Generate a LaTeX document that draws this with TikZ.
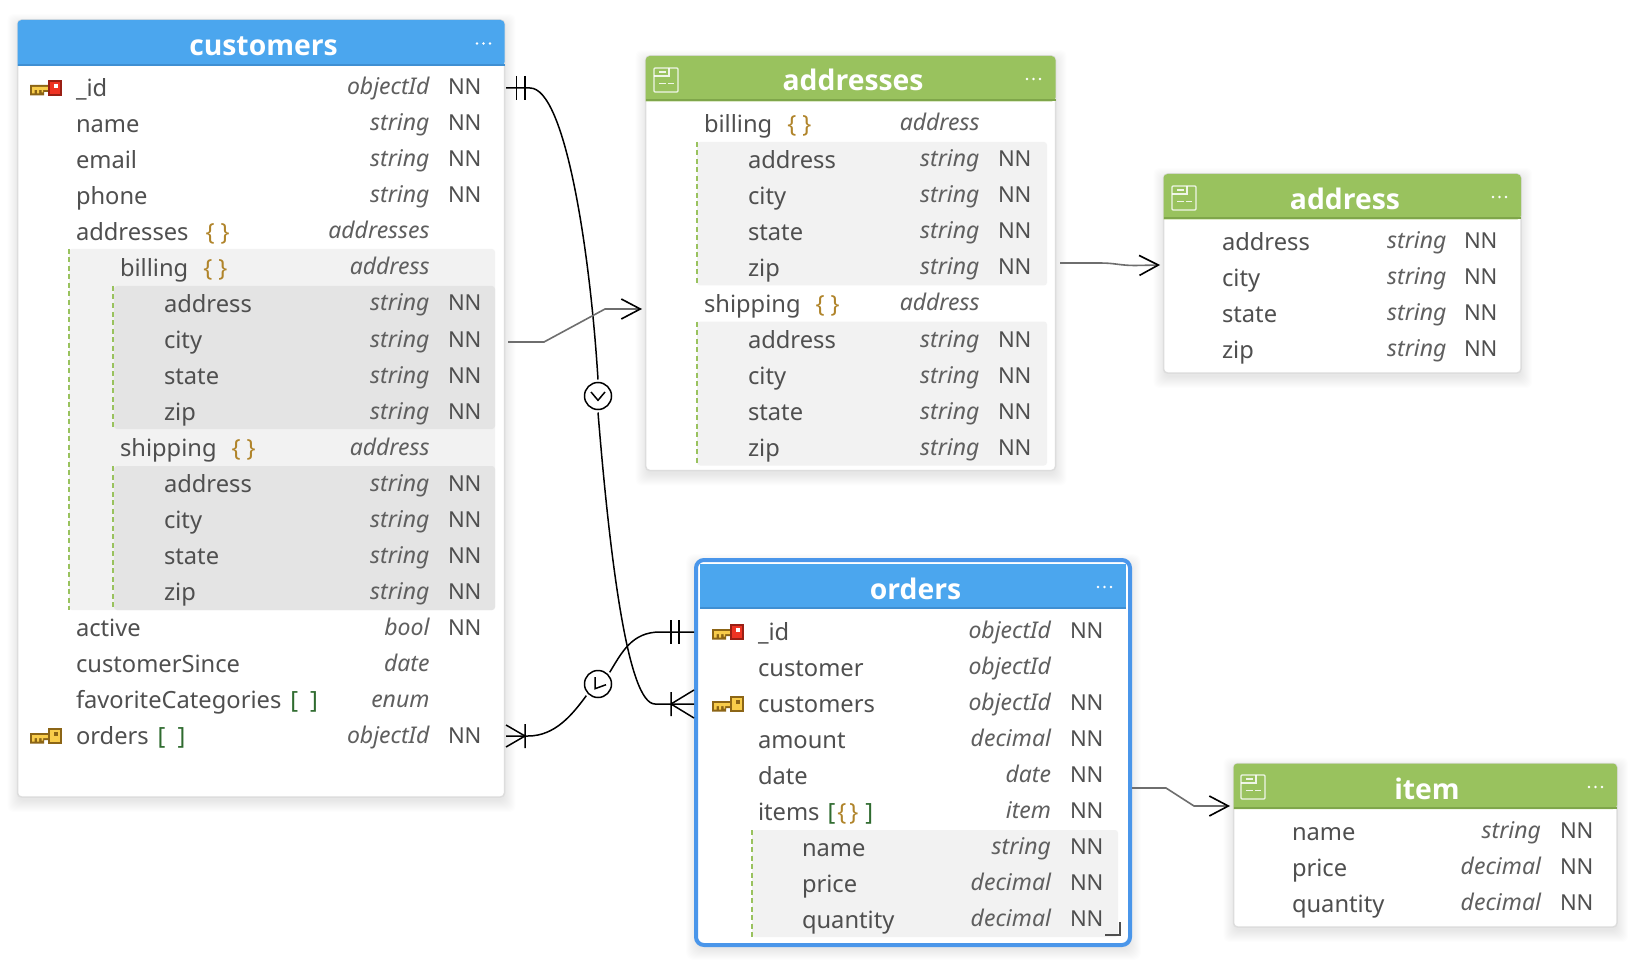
\documentclass[tikz,border=0pt]{standalone}
\usepackage{fontspec}
\setmainfont{Noto Sans}
\newfontfamily\boldface{Open Sans}
\usetikzlibrary{arrows.meta}
\definecolor{hblue}{HTML}{4BA6EE}
\definecolor{hbluedk}{HTML}{3F8FD2}
\definecolor{hgreen}{HTML}{99C25E}
\definecolor{hgreendk}{HTML}{7FA64A}
\definecolor{selblue}{HTML}{4A96EA}
\definecolor{edge}{HTML}{DDDDDD}
\definecolor{band}{HTML}{F2F2F2}
\definecolor{banddk}{HTML}{E4E4E4}
\definecolor{txt}{HTML}{4F4F4F}
\definecolor{typ}{HTML}{5F5F5F}
\definecolor{gbrace}{HTML}{B0842A}
\definecolor{gbrack}{HTML}{2F6B2F}
\definecolor{glink}{HTML}{6E6E6E}
\definecolor{kgold}{HTML}{F8CC4A}
\definecolor{kdark}{HTML}{8C6516}
\definecolor{kred}{HTML}{EF3323}
\definecolor{kreddk}{HTML}{9A1F14}
\newcommand\fs[1]{\fontsize{#1}{#1}\selectfont}
\newcommand\cbr{\textcolor{gbrace}{\{\hspace{6pt}\}}}
\newcommand\sbr{\textcolor{gbrack}{[\hspace{12pt}]}}
\newcommand\msbr{\textcolor{gbrack}{[}\hspace{2pt}\textcolor{gbrace}{\{\hspace{3pt}\}}\hspace{7pt}\textcolor{gbrack}{]}}
\tikzset{
  x=1pt,y=-1pt,
  fname/.style={anchor=base west,inner sep=0pt,outer sep=0pt,text=txt,font=\fs{23.7}},
  ftype/.style={anchor=base east,inner sep=0pt,outer sep=0pt,text=typ,font=\fs{23}\itshape},
  fnn/.style={anchor=base west,inner sep=0pt,outer sep=0pt,text=txt,font=\fs{22}},
  ttl/.style={anchor=base,inner sep=0pt,outer sep=0pt,text=white,font=\fs{28.3}\boldface\bfseries},
  gdash/.style={draw=hgreen,line width=2pt,dash pattern=on 5pt off 3.5pt},
  bandA/.style={fill=band,rounded corners=3pt},
  bandB/.style={fill=banddk,rounded corners=3pt},
  rel/.style={draw=black,line width=1.5pt},
  glinkst/.style={draw=glink,line width=1.6pt,-{Straight Barb[color=black,length=19pt,width=20pt,line width=1.6pt]}},
  card/.style={circle,draw=black,fill=white,line width=1.5pt,minimum size=27pt,inner sep=0pt,outer sep=3pt},
  icn/.style={draw=white,draw opacity=.85,line width=1.1pt},
}
% key icon: #1 name, #2 x, #3 y, #4 head fill, #5 head outline, #6 dot
\newcommand\keyicon[6]{%
  \begin{scope}[shift={(#2,#3)}]
    \coordinate (#1) at (0,8);
    \fill[kdark] (0,5) rectangle (19,12) (0,12) rectangle (14,15.5);
    \fill[kgold] (2,7) rectangle (19,10) (2,10) rectangle (4.5,13.5) (7,10) rectangle (9,13.5) (11.5,10) rectangle (13,12.5);
    \fill[#5] (18,0) rectangle (32,16);
    \fill[#4] (20,2) rectangle (30,14);
    \fill[#6] (24,4) rectangle (28,8);
  \end{scope}}
\newcommand\softshadow[5]{\foreach \k in {1,...,12}{\fill[black,opacity=.006,rounded corners=#5] ({#1-\k+2},{#2-\k+6}) rectangle ({#3+\k-1},{#4+\k+3});}}
% table: #1 name, #2..#5 x0 y0 x1 y1, #6 header bottom, #7 header colour, #8 strip colour
\newcommand\tablebox[8]{%
  \softshadow{#2}{#3}{#4}{#5}{6pt}
  \draw[edge,line width=1.5pt,fill=white,rounded corners=4pt] (#2,#3) rectangle (#4,#5);
  \node[inner sep=0pt,outer sep=0pt,minimum width={#4-#2},minimum height={#5-#3}] (#1) at ({(#2+#4)/2},{(#3+#5)/2}) {};
  \fill[#7,rounded corners=4pt] (#2,#6) -- (#2,#3) -- (#4,#3) -- (#4,#6) [sharp corners] -- cycle;
  \fill[#8] (#2,{#6-2}) rectangle (#4,#6);
}
\newcommand\mydots[2]{\fill[white] (#1,#2) circle (1.3) ({#1+6.5},#2) circle (1.3) ({#1+13},#2) circle (1.3);}
\newcommand\dociconat[2]{%
  \begin{scope}[shift={(#1,#2)}]
    \draw[icn,rounded corners=1pt] (0,0) rectangle (24,24);
    \draw[icn] (0,8) -- (15,8) -- (15,0);
    \draw[icn] (5,4) -- (12,4) (5,15.5) -- (12,15.5) (14,15.5) -- (20,15.5);
  \end{scope}}
\newcommand\fld[6]{%
  \node[fname] (#1) at (#2,{\bz+36*#3}) {#4};
  \node[ftype] (#1-t) at (\xt,{\bz+36*#3-1.7}) {#5};
  \if\relax\detokenize{#6}\relax\else\node[fnn] (#1-n) at (\xn,{\bz+36*#3-1.7}) {#6};\fi
}
\begin{document}
\begin{tikzpicture}
\useasboundingbox (0,0) rectangle (1646,968);
\fill[white] (0,0) rectangle (1646,968);

%% ---------- customers
\tablebox{customers}{17.5}{20}{504.5}{797}{66}{hblue}{hbluedk}
\node[ttl] (customers-title) at (263.5,55.3) {customers};
\mydots{477}{43.5}
\fill[bandA] (69,249) rectangle (495,610);
\fill[bandB] (114,286) rectangle (495,429);
\fill[bandB] (114,466) rectangle (495,610);
\draw[gdash] (69,249) -- (69,610);
\draw[gdash] (113,286) -- (113,429);
\draw[gdash] (113,466) -- (113,610);
\def\bz{96.7}\def\xt{429.5}\def\xn{448}
\keyicon{ck1}{30}{80}{kred}{kreddk}{white}
\keyicon{ck2}{30}{728}{kgold}{kdark}{kdark}
\fld{c0}{76}{0}{\_id}{objectId}{NN}
\fld{c1}{76}{1}{name}{string}{NN}
\fld{c2}{76}{2}{email}{string}{NN}
\fld{c3}{76}{3}{phone}{string}{NN}
\fld{c4}{76}{4}{addresses\hspace{17pt}\cbr}{addresses}{}
\fld{c5}{120}{5}{billing\hspace{15pt}\cbr}{address}{}
\fld{c6}{164}{6}{address}{string}{NN}
\fld{c7}{164}{7}{city}{string}{NN}
\fld{c8}{164}{8}{state}{string}{NN}
\fld{c9}{164}{9}{zip}{string}{NN}
\fld{c10}{120}{10}{shipping\hspace{15pt}\cbr}{address}{}
\fld{c11}{164}{11}{address}{string}{NN}
\fld{c12}{164}{12}{city}{string}{NN}
\fld{c13}{164}{13}{state}{string}{NN}
\fld{c14}{164}{14}{zip}{string}{NN}
\fld{c15}{76}{15}{active}{bool}{NN}
\fld{c16}{76}{16}{customerSince}{date}{}
\fld{c17}{76}{17}{favoriteCategories\hspace{9pt}\sbr}{enum}{}
\fld{c18}{76}{18}{orders\hspace{9pt}\sbr}{objectId}{NN}

%% ---------- addresses
\tablebox{addresses}{645.7}{56}{1055.5}{470.5}{101.5}{hgreen}{hgreendk}
\node[ttl] (addresses-title) at (853,90.7) {addresses};
\mydots{1027}{79}
\dociconat{654}{68}
\fill[bandA] (697,142) rectangle (1047,285.5);
\fill[bandA] (697,321.5) rectangle (1047,465.5);
\draw[gdash] (697,142) -- (697,285.5);
\draw[gdash] (697,321.5) -- (697,465.5);
\def\bz{132.7}\def\xt{979.5}\def\xn{998}
\fld{a0}{704}{0}{billing\hspace{15pt}\cbr}{address}{}
\fld{a1}{748}{1}{address}{string}{NN}
\fld{a2}{748}{2}{city}{string}{NN}
\fld{a3}{748}{3}{state}{string}{NN}
\fld{a4}{748}{4}{zip}{string}{NN}
\fld{a5}{704}{5}{shipping\hspace{15pt}\cbr}{address}{}
\fld{a6}{748}{6}{address}{string}{NN}
\fld{a7}{748}{7}{city}{string}{NN}
\fld{a8}{748}{8}{state}{string}{NN}
\fld{a9}{748}{9}{zip}{string}{NN}

%% ---------- address
\tablebox{address}{1163.5}{174}{1521}{373}{219.5}{hgreen}{hgreendk}
\node[ttl] (address-title) at (1345,209.8) {address};
\mydots{1493}{197}
\dociconat{1172}{186}
\def\bz{250.3}\def\xt{1446.5}\def\xn{1464}
\fld{b0}{1222}{0}{address}{string}{NN}
\fld{b1}{1222}{1}{city}{string}{NN}
\fld{b2}{1222}{2}{state}{string}{NN}
\fld{b3}{1222}{3}{zip}{string}{NN}

%% ---------- orders
\softshadow{696}{560}{1130}{945}{8pt}
\draw[selblue,line width=4pt,fill=white,rounded corners=8pt] (696,560) rectangle (1130,945);
\node[inner sep=0pt,outer sep=0pt,minimum width=434pt,minimum height=385pt] (orders) at (913,752.5) {};
\fill[hblue] (700,564) rectangle (1126,609);
\fill[hbluedk] (700,607) rectangle (1126,609);
\node[ttl] (orders-title) at (915.5,599) {orders};
\mydots{1098}{587}
\fill[bandA] (752,830) rectangle (1118,937);
\draw[gdash] (751.5,830) -- (751.5,937);
\def\bz{640.5}\def\xt{1051}\def\xn{1070}
\keyicon{ok1}{712}{624}{kred}{kreddk}{white}
\keyicon{ok2}{712}{696}{kgold}{kdark}{kdark}
\fld{o0}{758}{0}{\_id}{objectId}{NN}
\fld{o1}{758}{1}{customer}{objectId}{}
\fld{o2}{758}{2}{customers}{objectId}{NN}
\fld{o3}{758}{3}{amount}{decimal}{NN}
\fld{o4}{758}{4}{date}{date}{NN}
\fld{o5}{758}{5}{items\hspace{8pt}\msbr}{item}{NN}
\fld{o6}{802}{6}{name}{string}{NN}
\fld{o7}{802}{7}{price}{decimal}{NN}
\fld{o8}{802}{8}{quantity}{decimal}{NN}
\draw[txt,line width=1.5pt] (1105,935) -- (1120,935) -- (1120,922);

%% ---------- item
\tablebox{item}{1233.5}{763.5}{1617}{927}{809}{hgreen}{hgreendk}
\node[ttl] (item-title) at (1427,799.5) {item};
\mydots{1589}{787}
\dociconat{1241}{775}
\def\bz{840.2}\def\xt{1541}\def\xn{1560}
\fld{i0}{1292}{0}{name}{string}{NN}
\fld{i1}{1292}{1}{price}{decimal}{NN}
\fld{i2}{1292}{2}{quantity}{decimal}{NN}

%% ---------- ports
\coordinate (p-cid) at (506,88);
\coordinate (p-cid2) at (530,88);
\coordinate (p-oc) at (694,704);
\coordinate (p-oc2) at (655,704);
\coordinate (p-cord) at (506,736);
\coordinate (p-cord2) at (528,736);
\coordinate (p-oid) at (694,632);
\coordinate (p-oid2) at (660,632);
\coordinate (p-ca) at (508,342);
\coordinate (p-at) at (642,309);
\coordinate (p-ab) at (1060,263);
\coordinate (p-bt) at (1160,265);
\coordinate (p-oi) at (1132,788);
\coordinate (p-it) at (1230,806);

%% ---------- relationship: customers._id -> orders.customers
\node[card] (ci1) at (598,396) {};
\draw[black,line width=1.5pt] (591,392) -- (598,400.3) -- (605,392);
\draw[rel] (p-cid) -- (p-cid2) .. controls (565,88) and (590,250) .. (ci1.north);
\draw[rel] (ci1.south) .. controls (610,560) and (628,704) .. (p-oc2) -- (p-oc);
\draw[rel] (516.5,76) -- (516.5,100) (525,76) -- (525,100);
\draw[rel] (671,692) -- (671,716) (671,704) -- (694,690) (671,704) -- (694,718);

%% ---------- relationship: orders._id -> customers.orders
\node[card] (ci2) at (598,684) {};
\draw[black,line width=1.5pt] (595,677) -- (595,688.7) -- (606,684.7);
\draw[rel] (p-cord) -- (p-cord2) .. controls (555,736) and (572,715) .. (ci2.south west);
\draw[rel] (ci2.north east) .. controls (622,652) and (632,632) .. (p-oid2) -- (p-oid);
\draw[rel] (525,724) -- (525,748) (525,736) -- (506,725) (525,736) -- (506,747);
\draw[rel] (671,620) -- (671,644) (679,620) -- (679,644);

%% ---------- links to sub-documents
\draw[glinkst] (p-ca) -- (544,342) -- (605,309) -- (p-at);
\draw[glinkst] (p-ab) -- (1100,263) .. controls (1115,263) and (1120,265.5) .. (1135,265.5) -- (p-bt);
\draw[glinkst] (p-oi) -- (1166,788) -- (1194,806) -- (p-it);
\end{tikzpicture}
\end{document}
